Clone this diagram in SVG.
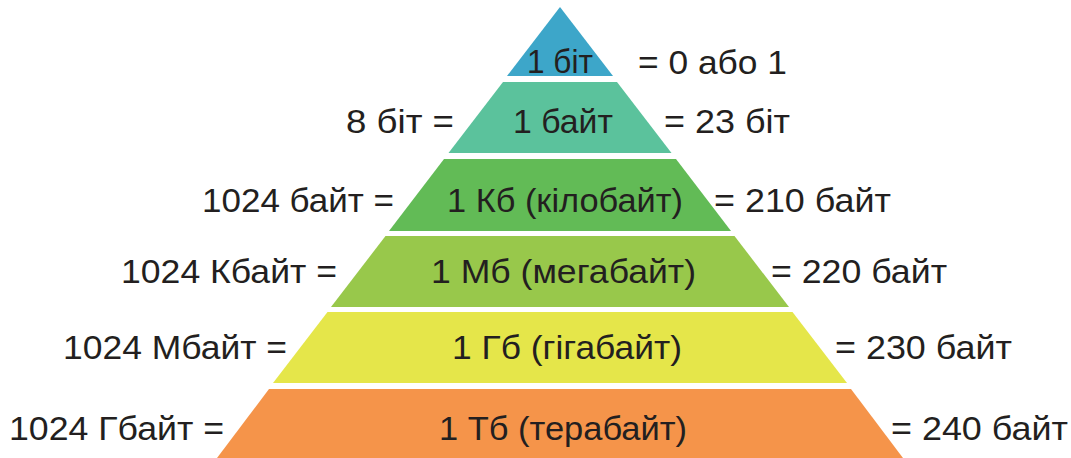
<svg xmlns="http://www.w3.org/2000/svg" width="1071" height="458" viewBox="0 0 1071 458">
<style>
text{font-family:"Liberation Sans",Arial,sans-serif;font-size:33px;fill:#231f20}
.lab{font-size:33px}
</style>
<rect width="1071" height="458" fill="#ffffff"/>
<g id="layer-bit">
<polygon points="560,7 613,76 507,76" fill="#3da6c9"/>
<text x="527" y="73" textLength="66" lengthAdjust="spacingAndGlyphs">1 біт</text>
</g>
<g id="layer-byte">
<polygon points="503,82 617,82 671.5,153 448.5,153" fill="#5bc29c"/>
<text x="513" y="133" textLength="100" lengthAdjust="spacingAndGlyphs">1 байт</text>
</g>
<g id="layer-kb">
<polygon points="444,159 676,159 731,231 389,231" fill="#62bb56"/>
<text x="447" y="212" textLength="236" lengthAdjust="spacingAndGlyphs">1 Кб (кілобайт)</text>
</g>
<g id="layer-mb">
<polygon points="385.5,236 734.5,236 789,307 331,307" fill="#98c84b"/>
<text x="431" y="283" textLength="265" lengthAdjust="spacingAndGlyphs">1 Мб (мегабайт)</text>
</g>
<g id="layer-gb">
<polygon points="327.5,312 792.5,312 847,383 273,383" fill="#e5e64a"/>
<text x="452" y="359" textLength="230" lengthAdjust="spacingAndGlyphs">1 Гб (гігабайт)</text>
</g>
<g id="layer-tb">
<polygon points="269,389 851,389 906,462 214,462" fill="#f5944a"/>
<text x="439" y="440" textLength="248" lengthAdjust="spacingAndGlyphs">1 Тб (терабайт)</text>
</g>
<g id="left-labels">
<text x="346" y="133" textLength="108" lengthAdjust="spacingAndGlyphs">8 біт =</text>
<text x="202" y="212" textLength="192" lengthAdjust="spacingAndGlyphs">1024 байт =</text>
<text x="121" y="283" textLength="216" lengthAdjust="spacingAndGlyphs">1024 Кбайт =</text>
<text x="63" y="359" textLength="224" lengthAdjust="spacingAndGlyphs">1024 Мбайт =</text>
<text x="9" y="440" textLength="215" lengthAdjust="spacingAndGlyphs">1024 Гбайт =</text>
</g>
<g id="right-labels">
<text x="638" y="74" textLength="149" lengthAdjust="spacingAndGlyphs">= 0 або 1</text>
<text x="664" y="133" textLength="126" lengthAdjust="spacingAndGlyphs">= 23 біт</text>
<text x="714" y="212" textLength="177" lengthAdjust="spacingAndGlyphs">= 210 байт</text>
<text x="771" y="283" textLength="176" lengthAdjust="spacingAndGlyphs">= 220 байт</text>
<text x="835" y="359" textLength="177" lengthAdjust="spacingAndGlyphs">= 230 байт</text>
<text x="891" y="440" textLength="177" lengthAdjust="spacingAndGlyphs">= 240 байт</text>
</g>
</svg>
